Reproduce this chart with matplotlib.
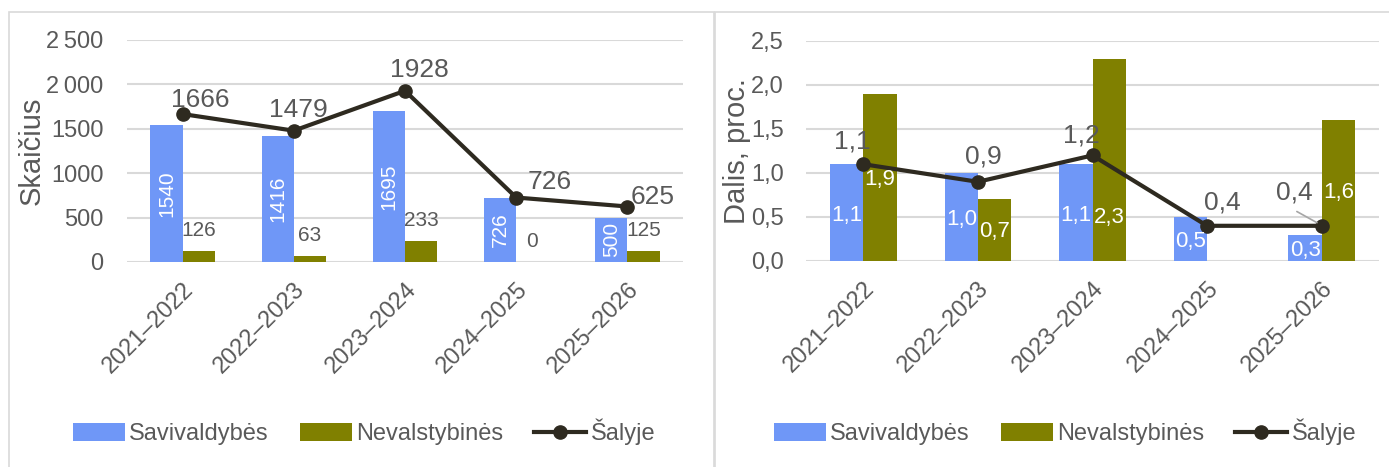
import matplotlib
matplotlib.use("Agg")
import matplotlib.pyplot as plt
import numpy as np
from matplotlib.patches import Rectangle

plt.rcParams['font.family'] = ['Liberation Sans', 'DejaVu Sans']

categories = ["2021–2022", "2022–2023", "2023–2024", "2024–2025", "2025–2026"]
count_sav = [1540, 1416, 1695, 726, 500]
count_nev = [126, 63, 233, 0, 125]
count_all = [1666, 1479, 1928, 726, 625]
share_sav = [1.1, 1.0, 1.1, 0.5, 0.3]
share_nev = [1.9, 0.7, 2.3, 0.0, 1.6]
share_all = [1.1, 0.9, 1.2, 0.4, 0.4]
left_yticks = [0, 500, 1000, 1500, 2000, 2500]
left_yticklabels = ["0", "500", "1000", "1500", "2\u2009000", "2\u2009500"]
right_yticks = [0, 0.5, 1.0, 1.5, 2.0, 2.5]

BLUE = "#6f97f7"
OLIVE = "#808000"
LINE = "#2e2a20"
GRAY = "#595959"
GRID = "#d9d9d9"
FS = 17

fig = plt.figure(figsize=(13.89, 4.67), dpi=100)

# panel borders
for x0, w in [(8.5 / 1389, 705 / 1389), (714.5 / 1389, 700 / 1389)]:
    fig.patches.append(Rectangle((x0, -0.05), w, 1.05 - 12 / 467, transform=fig.transFigure,
                                 fill=False, edgecolor="#d9d9d9", linewidth=1.2))

ax1 = fig.add_axes([127 / 1389, 1 - 262 / 467, 556 / 1389, 222 / 467])
ax2 = fig.add_axes([806 / 1389, 1 - 261 / 467, 573 / 1389, 220 / 467])

w = 0.29
x = np.arange(len(categories))


def style(ax, yticks, yticklabels, ymax, ylabel, pad):
    ax.set_xlim(-0.5, len(categories) - 0.5)
    ax.set_ylim(0, ymax)
    ax.set_yticks(yticks)
    ax.set_yticklabels(yticklabels)
    ax.yaxis.grid(True, color=GRID, linewidth=1.5)
    ax.set_axisbelow(True)
    for s in ax.spines.values():
        s.set_visible(False)
    ax.tick_params(axis='both', length=0, labelcolor=GRAY, labelsize=FS)
    ax.tick_params(axis='y', pad=pad)
    ax.set_xticks(x)
    ax.set_xticklabels(categories, rotation=45, ha='right', rotation_mode='anchor')
    ax.tick_params(axis='x', pad=12)
    ax.set_ylabel(ylabel, color=GRAY, fontsize=21, labelpad=0)


style(ax1, left_yticks, left_yticklabels, 2500, "Skaičius", 17)
style(ax2, right_yticks, ["0,0", "0,5", "1,0", "1,5", "2,0", "2,5"], 2.5, "Dalis, proc.", 16)

# left panel
b1 = ax1.bar(x - w / 2, count_sav, w, color=BLUE, label="Savivaldybės")
b2 = ax1.bar(x + w / 2, count_nev, w, color=OLIVE, label="Nevalstybinės")
l1, = ax1.plot(x, count_all, color=LINE, linewidth=3, marker='o', markersize=9.5, label="Šalyje")
for xi, v in zip(x, count_sav):
    ax1.text(xi - w / 2, v / 2, f"{v}", rotation=90, color="white", ha='center', va='center', fontsize=15)
for xi, v in zip(x, count_nev):
    ax1.annotate(f"{v}", (xi + w / 2, v), xytext=(0, 8), textcoords='offset points',
                 ha='center', va='bottom', color=GRAY, fontsize=15)
left_off = [(13, 10), (3, 15), (10, 15), (24, 11), (18, 7)]
for xi, v, off in zip(x, count_all, left_off):
    ax1.annotate(f"{v}", (xi, v), xytext=off, textcoords='offset points',
                 ha='center', va='center', color=GRAY, fontsize=19)

# right panel
ax2.bar(x - w / 2, share_sav, w, color=BLUE, label="Savivaldybės")
ax2.bar(x + w / 2, share_nev, w, color=OLIVE, label="Nevalstybinės")
ax2.plot(x, share_all, color=LINE, linewidth=3, marker='o', markersize=9.5, label="Šalyje", zorder=3)


def fmt(v):
    return f"{v:.1f}".replace('.', ',')


for xi, v in zip(x, share_sav):
    ax2.text(xi - w / 2, v / 2 - 0.03, fmt(v), color="white", ha='center', va='center', fontsize=16)
nev_y = [0.93, 0.33, 0.5, None, 0.78]
for xi, v, yy in zip(x, share_nev, nev_y):
    if v > 0:
        ax2.text(xi + w / 2, yy, fmt(v), color="white", ha='center', va='center', fontsize=16, zorder=4)
right_off = [(-8, 16), (4, 18), (-8, 14), (11, 17), (-20, 24)]
for i, (xi, v, off) in enumerate(zip(x, share_all, right_off)):
    ax2.annotate(fmt(v), (xi, v), xytext=off, textcoords='offset points',
                 ha='center', va='center', color=GRAY, fontsize=19)
    if i == 4:
        ax2.annotate("", (xi - 0.02, v + 0.02), xytext=(-18, 10), textcoords='offset points',
                     arrowprops=dict(arrowstyle='-', color="#a6a6a6", lw=1.2))

# legends
hmap = dict(zip(*ax1.get_legend_handles_labels()[::-1]))
order = ["Savivaldybės", "Nevalstybinės", "Šalyje"]
h = [hmap[k] for k in order]
for cx in [364 / 1389, 1065 / 1389]:
    fig.legend(h, order, loc='center', bbox_to_anchor=(cx, 1 - 432 / 467), ncol=3, frameon=False,
               fontsize=FS, labelcolor=GRAY, handlelength=2.2, handleheight=0.8,
               handletextpad=0.2, columnspacing=1.3)

fig.savefig("out.png", dpi=100)
